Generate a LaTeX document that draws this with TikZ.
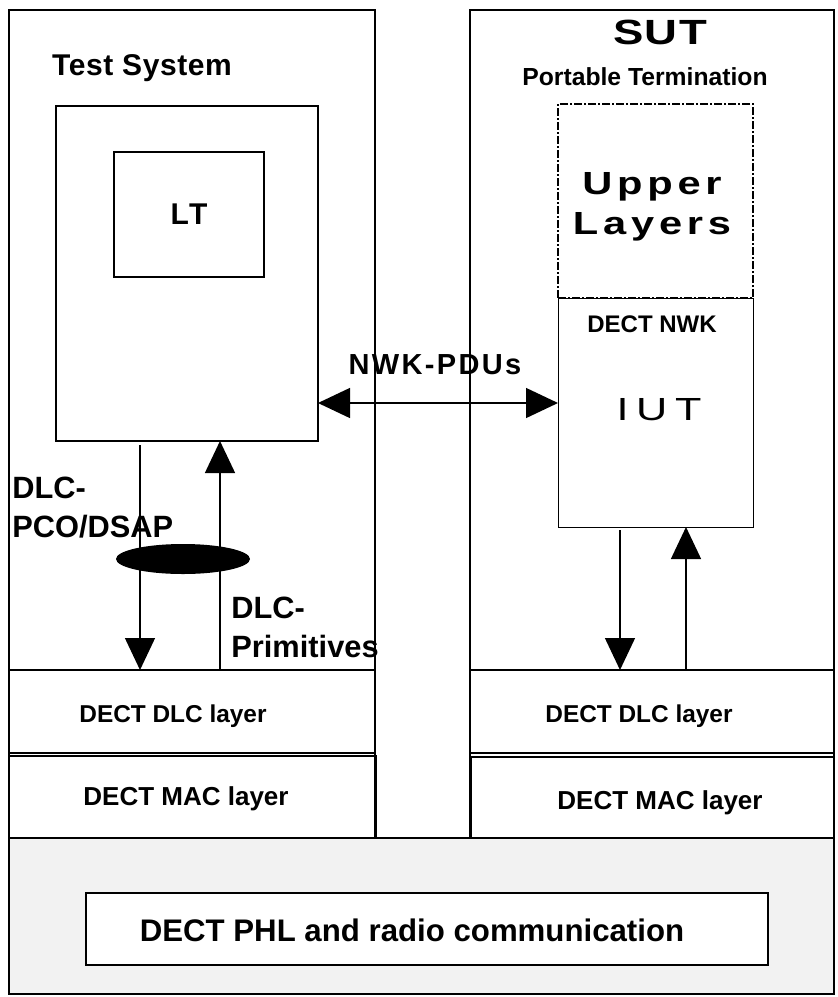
\documentclass[tikz,border=0pt]{standalone}
\usepackage{fontspec}
\setmainfont{Liberation Sans}
\usetikzlibrary{positioning,arrows.meta,shapes.geometric}

\begin{document}
\begin{tikzpicture}[
    x=0.5pt, y=-0.5pt,
    >={Triangle[length=16pt,width=15pt]},
    line/.style={->, line width=0.7pt},
    sysbox/.style={
        draw, line width=1pt,
        anchor=north west,
        inner sep=0pt, outer sep=0pt
    },
    layerbox/.style={
        draw, line width=1.3pt,
        anchor=north west,
        inner sep=0pt, outer sep=0pt
    },
    heading/.style={font=\bfseries\fontsize{15}{18}\selectfont},
    layertxt/.style={font=\bfseries\fontsize{12.2}{14}\selectfont},
    mactxt/.style={font=\bfseries\fontsize{13}{15}\selectfont},
    primtxt/.style={
        anchor=west, align=left, inner sep=0pt,
        font=\bfseries\fontsize{15.4}{19.5}\selectfont
    }
]

\useasboundingbox (0,0) rectangle (837,997);

% Physical layer
\node[sysbox, fill=gray!10, minimum width=412.5pt, minimum height=78pt] (phy) at (9,838) {};
\node[sysbox, fill=white, minimum width=341pt, minimum height=36pt] (phl) at (86,893) {};
\node[font=\bfseries\fontsize{15.6}{18}\selectfont] (phlTxt)
  at ([xshift=-7.5pt,yshift=-0.5pt]phl.center) {DECT PHL and radio communication};

% Test system
\node[sysbox, minimum width=183pt, minimum height=414pt] (ts) at (9,10) {};
\node[heading] (tsTitle) at (142,68) {\addfontfeature{LetterSpace=2}Test System};
\node[sysbox, minimum width=131pt, minimum height=167.5pt] (ltMain) at (56,106) {};
\node[sysbox, heading, minimum width=75pt, minimum height=62.5pt] (lt) at (114,152)
  {\addfontfeature{LetterSpace=8}LT};

% SUT
\node[sysbox, minimum width=182pt, minimum height=414pt] (sut) at (470,10) {};
\node[font=\bfseries\fontsize{17.5}{20}\selectfont\addfontfeature{FakeStretch=1.3,LetterSpace=4}]
  (sutTitle) at (660,32) {SUT};
\node[font=\bfseries\fontsize{12.35}{14}\selectfont] (ptTitle) at (645,77) {Portable Termination};
\node[sysbox, line width=0.6pt, dash pattern=on 4pt off 1pt on 1pt off 1pt,
  minimum width=97.5pt, minimum height=97pt] (upper) at (558,104) {};
\node[align=center, inner sep=0pt,
  font=\bfseries\fontsize{16}{20}\selectfont\addfontfeature{FakeStretch=1.3,LetterSpace=15}]
  (upperTxt) at (652,207) {Upper\\Layers};
\node[sysbox, line width=0.5pt, minimum width=97.5pt, minimum height=114.5pt] (iut) at (558,298) {};
\node[font=\bfseries\fontsize{12}{14}\selectfont] (nwkTitle) at (652,324) {DECT NWK};
\node[font=\fontsize{16}{18}\selectfont\addfontfeature{FakeStretch=1.35,LetterSpace=24}]
  (iutTxt) at (659,410) {IUT};

% DLC and MAC layers
\node[layerbox, minimum width=183pt, minimum height=41.5pt] (dlcL) at (9,670) {};
\node[layerbox, minimum width=183.5pt, minimum height=41pt] (macL) at (9,756) {};
\node[layerbox, minimum width=182pt, minimum height=41.5pt] (dlcR) at (470,670) {};
\node[layerbox, minimum width=181.5pt, minimum height=40.5pt] (macR) at (471,757) {};
\node[layertxt] (dlcLTxt) at ([xshift=-9.5pt,yshift=-2.5pt]dlcL.center) {DECT DLC layer};
\node[mactxt]   (macLTxt) at ([xshift=-3.25pt,yshift=-1pt]macL.center) {DECT MAC layer};
\node[layertxt] (dlcRTxt) at ([xshift=-6.5pt,yshift=-2.5pt]dlcR.center) {DECT DLC layer};
\node[mactxt]   (macRTxt) at ([xshift=3.75pt,yshift=-2.75pt]macR.center) {DECT MAC layer};

% NWK-PDUs
\coordinate (pduY) at (0,403);
\draw[line, <->] (ltMain.east |- pduY) -- (iut.west |- pduY);
\node[font=\bfseries\fontsize{14.5}{17}\selectfont\addfontfeature{LetterSpace=8}]
  (pduTxt) at (435,365) {NWK-PDUs};

% Primitives
\coordinate (dnL) at (140,0);
\coordinate (upL) at (220,0);
\coordinate (dnR) at (620,0);
\coordinate (upR) at (686,0);
\draw[line, shorten <=2pt]   (ltMain.south -| dnL) -- (dlcL.north -| dnL);
\draw[line]                  (dlcL.north -| upL)   -- (ltMain.south -| upL);
\draw[line, shorten <=1.5pt] (iut.south -| dnR)    -- (dlcR.north -| dnR);
\draw[line]                  (dlcR.north -| upR)   -- (iut.south -| upR);

\node[ellipse, fill=black, inner sep=0pt, minimum width=67pt, minimum height=15pt] (pco) at (183,559) {};
\node[primtxt] (pcoTxt)  at (12,508)  {DLC-\\PCO/DSAP};
\node[primtxt] (primTxt) at (231,627) {DLC-\\Primitives};

\end{tikzpicture}
\end{document}
